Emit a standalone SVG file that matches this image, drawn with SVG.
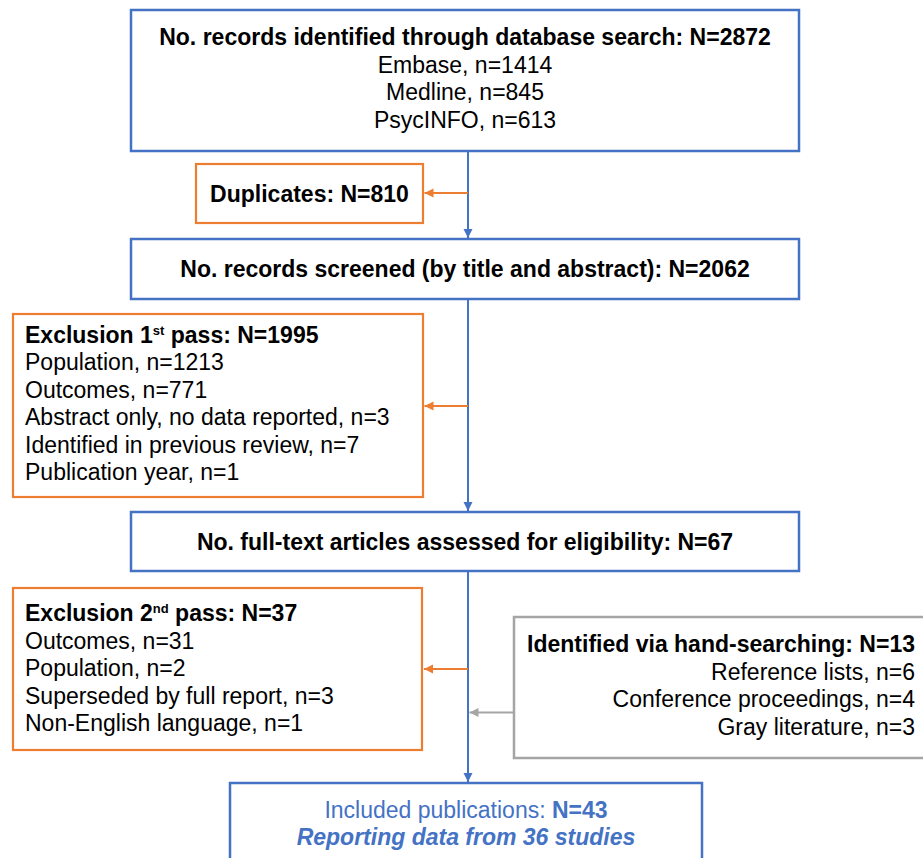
<svg xmlns="http://www.w3.org/2000/svg" width="923" height="858" viewBox="0 0 923 858">
<style>
text{font-family:"Liberation Sans",Arial,sans-serif;font-size:23px;fill:#000}
.b{font-weight:bold}
.c{text-anchor:middle}
.r{text-anchor:end}
.orange{fill:#fff;stroke:#ED7D31;stroke-width:2.2}
.gray{fill:#fff;stroke:#A5A5A5;stroke-width:2.5}
.bluebox{fill:#fff;stroke:#4472C4;stroke-width:2.5}
.sup{font-size:13px}
.inc{fill:#4472C4}
</style>
<defs>
<marker id="ab" markerUnits="userSpaceOnUse" markerWidth="10" markerHeight="10" refX="9" refY="4.5" orient="auto"><path d="M0,0 L9,4.5 L0,9 z" fill="#4472C4"/></marker>
<marker id="ao" markerUnits="userSpaceOnUse" markerWidth="10" markerHeight="10" refX="9" refY="4.5" orient="auto"><path d="M0,0 L9,4.5 L0,9 z" fill="#ED7D31"/></marker>
<marker id="ag" markerUnits="userSpaceOnUse" markerWidth="10" markerHeight="10" refX="9" refY="4.5" orient="auto"><path d="M0,0 L9,4.5 L0,9 z" fill="#A5A5A5"/></marker>
</defs>
<rect width="923" height="858" fill="#fff"/>
<g id="connectors" fill="none" stroke-width="2">
<path d="M468,151 V238" stroke="#4472C4" marker-end="url(#ab)"/>
<path d="M468,299 V511" stroke="#4472C4" marker-end="url(#ab)"/>
<path d="M468,571 V782" stroke="#4472C4" marker-end="url(#ab)"/>
<path d="M468,193 H424.5" stroke="#ED7D31" marker-end="url(#ao)"/>
<path d="M468,406 H424.5" stroke="#ED7D31" marker-end="url(#ao)"/>
<path d="M468,669 H424" stroke="#ED7D31" marker-end="url(#ao)"/>
<path d="M513,712.5 H469.5" stroke="#A5A5A5" marker-end="url(#ag)"/>
</g>
<g id="identified">
<rect class="bluebox" x="131" y="10" width="668" height="141"/>
<text class="b c" x="465" y="45">No. records identified through database search: N=2872</text>
<text class="c" x="465" y="72.5">Embase, n=1414</text>
<text class="c" x="465" y="100">Medline, n=845</text>
<text class="c" x="465" y="127.5">PsycINFO, n=613</text>
</g>
<g id="duplicates">
<rect class="orange" x="196" y="164" width="227" height="59"/>
<text class="b c" x="309.5" y="201.5">Duplicates: N=810</text>
</g>
<g id="screened">
<rect class="bluebox" x="131" y="239" width="668" height="60"/>
<text class="b c" x="465" y="277">No. records screened (by title and abstract): N=2062</text>
</g>
<g id="exclusion1">
<rect class="orange" x="13" y="314" width="410" height="183"/>
<text class="b" x="25" y="342.5">Exclusion 1<tspan class="sup" dy="-8">st</tspan><tspan dy="8"> pass: N=1995</tspan></text>
<text x="25" y="370">Population, n=1213</text>
<text x="25" y="397.5">Outcomes, n=771</text>
<text x="25" y="425">Abstract only, no data reported, n=3</text>
<text x="25" y="452.5">Identified in previous review, n=7</text>
<text x="25" y="480">Publication year, n=1</text>
</g>
<g id="fulltext">
<rect class="bluebox" x="131" y="512" width="668" height="59"/>
<text class="b c" x="465" y="549.5">No. full-text articles assessed for eligibility: N=67</text>
</g>
<g id="exclusion2">
<rect class="orange" x="13" y="588" width="409" height="162"/>
<text class="b" x="25" y="621">Exclusion 2<tspan class="sup" dy="-8">nd</tspan><tspan dy="8"> pass: N=37</tspan></text>
<text x="25" y="648.5">Outcomes, n=31</text>
<text x="25" y="676">Population, n=2</text>
<text x="25" y="703.5">Superseded by full report, n=3</text>
<text x="25" y="731">Non-English language, n=1</text>
</g>
<g id="handsearch">
<rect class="gray" x="514" y="617" width="420" height="141"/>
<text class="b r" x="915" y="652">Identified via hand-searching: N=13</text>
<text class="r" x="915" y="679.5">Reference lists, n=6</text>
<text class="r" x="915" y="707">Conference proceedings, n=4</text>
<text class="r" x="915" y="734.5">Gray literature, n=3</text>
</g>
<g id="included">
<rect class="bluebox" x="230" y="783" width="472" height="90"/>
<text class="c inc" x="466" y="818">Included publications: <tspan class="b">N=43</tspan></text>
<text class="c inc b" x="466" y="845" font-style="italic">Reporting data from 36 studies</text>
</g>
</svg>
